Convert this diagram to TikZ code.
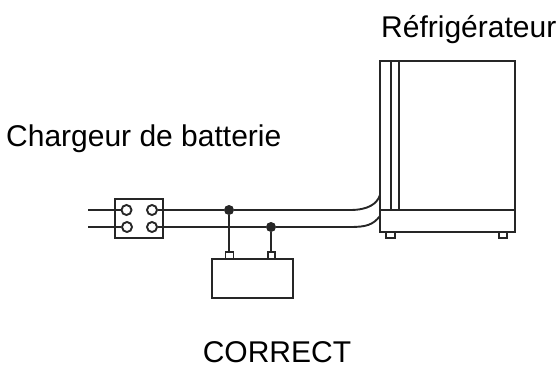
\documentclass[tikz,border=0pt]{standalone}
\usepackage{fontspec}
\setmainfont{Liberation Sans}
\tikzset{
  wire/.style={line width=1.9pt,draw=black!85},
  plate/.style={draw=black!85,line width=1.9pt,inner sep=0pt,outer sep=0pt,rectangle,anchor=north west},
  post/.style={draw=black!85,line width=1.9pt,fill=white,circle,inner sep=0pt,minimum size=10pt},
  joint/.style={fill=black!85,circle,inner sep=0pt,minimum size=10pt},
  label/.style={inner sep=0pt,font=\fontsize{30}{30}\selectfont}
}
\begin{document}
\begin{tikzpicture}[x=1pt,y=-1pt]
\useasboundingbox (0,0) rectangle (558,368);

\node[plate,minimum width=135pt,minimum height=171pt] (fridge) at (380,61) {};
\node[plate,minimum width=135pt,minimum height=22pt] (base) at (380,210) {};
\node[plate,minimum width=9pt,minimum height=6pt] (foota) at (386,232) {};
\node[plate,minimum width=8pt,minimum height=6pt] (footb) at (499,232) {};
\node[plate,minimum width=48pt,minimum height=39pt] (charger) at (115,199) {};
\node[plate,minimum width=81pt,minimum height=39pt] (battery) at (212,259) {};
\node[plate,minimum width=8pt,minimum height=7pt] (posa) at (225.5,252) {};
\node[plate,minimum width=7pt,minimum height=7pt] (posb) at (268,252) {};

\coordinate (topa) at (391,61);
\coordinate (bota) at (391,210);
\coordinate (topb) at (399,61);
\coordinate (botb) at (399,210);
\draw[wire] (topa) -- (bota);
\draw[wire] (topb) -- (botb);

\node[post] (cola) at (126.5,210) {};
\node[post] (colb) at (152,210) {};
\node[post] (colc) at (127,227) {};
\node[post] (cold) at (152,227) {};
\node[joint] (jointa) at (229,210) {};
\node[joint] (jointb) at (271,227) {};

\coordinate (ina) at (88,210);
\coordinate (inb) at (88,227);
\coordinate (enda) at (380,195);
\coordinate (endb) at (380,216);

\draw[wire] (ina) -- (cola);
\draw[wire] (inb) -- (colc);
\draw[wire] (colb) -- (jointa);
\draw[wire] (cold) -- (jointb);
\draw[wire] (jointa) -- (350,210) .. controls (368,210) and (377,204) .. (enda);
\draw[wire] (jointb) -- (350,227) .. controls (366,227) and (373,225) .. (endb);
\draw[wire] (jointa) -- (posa.north-|jointa);
\draw[wire] (jointb) -- (posb.north-|jointb);

\node[label,anchor=west] (fridgetext) at (381,30) {Réfrigérateur};
\node[label,anchor=west] (chargertext) at (6,139) {Chargeur de batterie};
\node[label] (correcttext) at (277,352) {CORRECT};
\end{tikzpicture}
\end{document}
